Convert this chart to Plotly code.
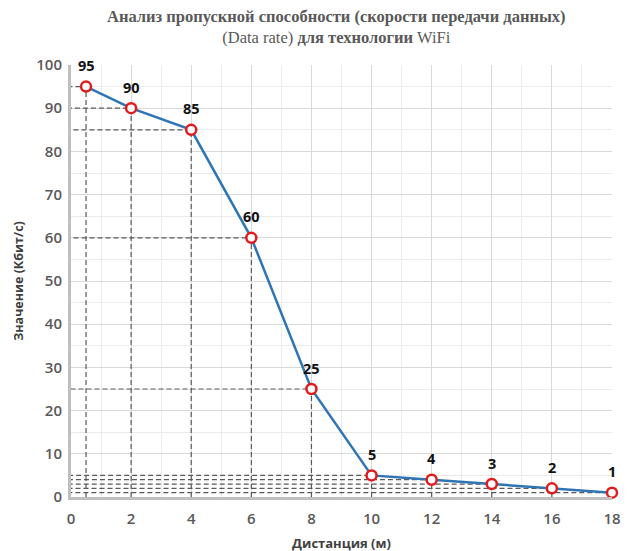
import plotly.graph_objects as go

distance = [0.5, 2, 4, 6, 8, 10, 12, 14, 16, 18]
rate = [95, 90, 85, 60, 25, 5, 4, 3, 2, 1]
labels = ["95", "90", "85", "60", "25", "5", "4", "3", "2", "1"]
x_ticks = [0, 2, 4, 6, 8, 10, 12, 14, 16, 18]
y_ticks = [0, 10, 20, 30, 40, 50, 60, 70, 80, 90, 100]

# drop-line paths built from data
dx, dy = [], []
for xv, yv in zip(distance, rate):
    dx += [xv, xv, 0, None]
    dy += [0, yv, yv, None]

fig = go.Figure()
fig.add_trace(go.Scatter(x=dx, y=dy, mode="lines",
                         line=dict(color="#595959", width=1.2, dash="5px,3px"),
                         hoverinfo="skip", showlegend=False, cliponaxis=False))
fig.add_trace(go.Scatter(
    x=distance, y=rate, mode="lines+markers",
    line=dict(color="#2e75b6", width=2.5),
    marker=dict(size=10, color="white", line=dict(color="#e31a1c", width=2.5)),
    cliponaxis=False, showlegend=False))

for xv, yv, t in zip(distance, rate, labels):
    fig.add_annotation(x=xv, y=yv, text=t, showarrow=False, yshift=21,
                       font=dict(family="Open Sans", size=14.5, color="#111111", weight="bold"))

fig.update_layout(
    width=635, height=551,
    margin=dict(l=63, r=31, t=57, b=62, autoexpand=False),
    paper_bgcolor="white", plot_bgcolor="white",
    title=dict(
        text="<b>Анализ пропускной способности (скорости передачи данных)</b><br>(Data rate) <b>для технологии</b> WiFi",
        x=0.517, xanchor="center", xref="container", yref="container", y=0.975, yanchor="top",
        automargin=False,
        font=dict(family="Liberation Serif", size=16.5, color="#595959")),
    xaxis=dict(range=[0, 18], tickvals=x_ticks, ticktext=[str(v) for v in x_ticks],
               showline=True, linecolor="#bfbfbf", linewidth=3, automargin=False,
               gridcolor="#d9d9d9", gridwidth=1, zeroline=False,
               minor=dict(dtick=1, showgrid=True, gridcolor="#ebebeb"),
               tickfont=dict(family="Open Sans", size=15, color="#595959", weight=600),
               ticklabelstandoff=6,
               title=dict(text="<b>Дистанция (м)</b>", standoff=12,
                          font=dict(family="Open Sans", size=13, color="#404040")),
               ticks="", ticklen=0),
    yaxis=dict(range=[0, 100], tickvals=y_ticks,
               showline=True, linecolor="#bfbfbf", linewidth=3, automargin=False,
               gridcolor="#d9d9d9", gridwidth=1, zeroline=False,
               minor=dict(dtick=5, showgrid=True, gridcolor="#ebebeb"),
               tickfont=dict(family="Open Sans", size=15, color="#595959", weight=600),
               ticklabelstandoff=3,
               title=dict(text="<b>Значение (Кбит/с)</b>", standoff=10,
                          font=dict(family="Open Sans", size=12.5, color="#404040")),
               ticks="", ticklen=0),
)

fig.write_html("out.html")
